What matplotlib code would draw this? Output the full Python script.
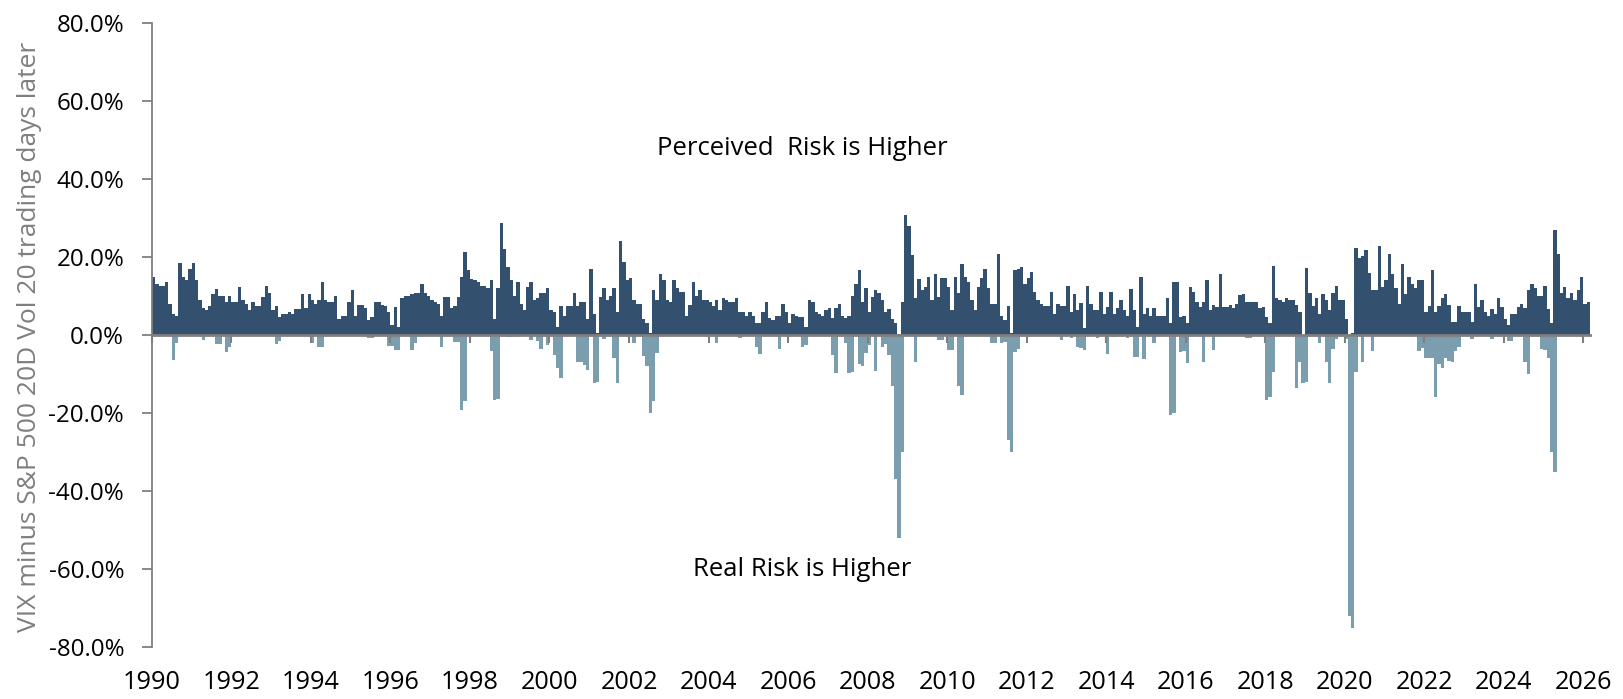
import matplotlib
matplotlib.use("Agg")
import matplotlib.pyplot as plt
import matplotlib.dates as mdates
import pandas as pd

plt.rcParams["font.family"] = ["Open Sans", "DejaVu Sans"]

start_month = "1990-01-01"

# Monthly peak of VIX minus realised vol (positive side), in percent
perceived_higher = [
    15, 13, 12.5, 12.5, 13.7, 8, 5.5, 5, 18.4, 15, 14, 17,            # 1990
    18.4, 14, 9, 7, 6.4, 7.4, 10.5, 11.7, 10, 10, 8.5, 10,            # 1991
    8.5, 8.5, 12.2, 9, 8, 6.4, 8.5, 7.4, 7.4, 9.8, 12.5, 10.7,        # 1992
    6.4, 7.4, 4.7, 5.5, 5.5, 6, 5.5, 6.6, 6.6, 10.5, 7, 10.5,         # 1993
    9, 8, 9, 13.7, 9, 8.5, 8.5, 10, 4, 5, 5, 8.5,                     # 1994
    11.5, 5, 7.7, 7.7, 7, 3.8, 4.5, 8.5, 8.5, 7.7, 7.4, 6,            # 1995
    2.5, 7.3, 2, 9.5, 10, 10, 10.5, 10.7, 10.7, 13, 10.7, 10,         # 1996
    9, 8.5, 8, 4.9, 9.8, 9.8, 7, 7.4, 9.8, 15, 21.4, 16.7,            # 1997
    14.3, 14, 13.7, 12.5, 12.5, 12, 14, 4, 12, 28.6, 22, 17.5,        # 1998
    14, 10, 13.7, 8, 6.4, 12.4, 13.7, 9, 9.4, 10.7, 10.7, 12,         # 1999
    6.4, 6, 2, 7.4, 5, 7.4, 7.4, 10.7, 7.4, 8.5, 8.5, 4,              # 2000
    17, 5.5, 0.5, 9.8, 12, 9, 10, 12, 6, 24, 18.8, 14,                # 2001
    14.5, 9, 8, 8, 4, 3, 0.5, 11.5, 9, 15.6, 14, 9,                   # 2002
    8.5, 14, 12, 11, 11, 5, 7.7, 13.7, 10, 11.5, 9, 9,                # 2003
    8.5, 7.5, 9, 6.5, 9.4, 9, 8.5, 8.5, 9.4, 6, 6, 5,                 # 2004
    6, 5, 3, 3, 6, 8.5, 4.3, 3.8, 5, 5, 8, 6,                         # 2005
    3, 5.5, 5, 4.7, 4.7, 2, 9, 8.5, 6, 5.5, 5, 6.4,                   # 2006
    6.8, 4.3, 6.8, 8, 5, 4.3, 5, 10, 13.2, 16.7, 8.5, 12,             # 2007
    6, 9.8, 11.5, 10.7, 9, 6, 6.6, 4, 3, 0.3, 8.5, 30.7,              # 2008
    28, 20.5, 9.4, 14.3, 11.5, 12.4, 15, 9, 15.6, 9.8, 14.5, 14.5,    # 2009
    12.2, 6.4, 15, 10.7, 18.2, 15, 13.7, 9, 6.4, 12.4, 14.5, 17,      # 2010
    12, 8, 8, 20.8, 5, 3.8, 7.4, 0.4, 16.7, 17, 17.5, 13.2,           # 2011
    14.5, 16.2, 11, 9, 8, 7.5, 7.4, 11, 5.5, 8, 7.4, 7.4,             # 2012
    12.5, 6, 10.4, 6.4, 8.3, 1.7, 12.5, 8, 6.4, 6.4, 11, 5.5,         # 2013
    7.3, 11, 5.5, 7, 9, 6.4, 5, 11.7, 6.4, 2, 15, 5.5,                # 2014
    6.8, 5, 6.8, 5, 5, 5, 9.4, 3, 13.7, 13.7, 4.7, 5,                 # 2015
    3, 12.2, 11, 8.5, 7.3, 8.5, 14, 6.4, 7.7, 7.3, 15.6, 7.3,         # 2016
    7.3, 7.7, 6.8, 8, 10.3, 10.4, 8.5, 8.5, 8.5, 8.5, 6.8, 7.3,       # 2017
    4.7, 3, 17.7, 9.4, 9, 8.5, 9.6, 9, 9, 7.7, 6, 0,                  # 2018
    17.3, 10.7, 7.4, 9.6, 5.5, 10.5, 9, 6.4, 10.7, 12.5, 9, 9,        # 2019
    4, 0, 0.5, 22.2, 19.7, 20.3, 21.8, 16, 11.5, 11.5, 22.8, 12.4,    # 2020
    14, 20.8, 15.6, 12, 8, 18.1, 10.5, 15, 13.2, 12, 14, 14,          # 2021
    6, 7.4, 16.7, 6, 7.4, 9.4, 10.5, 7.7, 3.4, 3.4, 7.4, 6,           # 2022
    6, 6, 3.4, 13, 7.3, 9, 6, 5, 6.6, 5.5, 9.4, 7.3,                  # 2023
    4, 2.6, 5.5, 5.5, 7.3, 8, 6.8, 11.5, 13, 12, 10, 10,              # 2024
    12.5, 6.6, 3, 27, 20.8, 10.7, 12.2, 9.4, 10.7, 9, 11.5, 15,       # 2025
    8, 8.5,                                                           # 2026
]

# Monthly trough (negative side), in percent
real_higher = [
    0, 0, 0, 0, 0, 0, -6.4, -2, 0, 0, 0, 0,                           # 1990
    0, 0, 0, -1.3, 0, 0, 0, -2.3, -2.3, 0, -4.3, -3,                  # 1991
    0, 0, 0, 0, 0, 0, 0, 0, 0, 0, 0, 0,                               # 1992
    0, -2.3, -1.5, 0, 0, 0, 0, 0, 0, 0, 0, 0,                         # 1993
    -2.1, 0, -3.2, -3.2, 0, 0, 0, 0, 0, 0, 0, 0,                      # 1994
    0, 0, 0, 0, 0, -0.7, -0.7, 0, 0, 0, 0, -2.8,                      # 1995
    -2.8, -3.8, -3.8, 0, 0, 0, -3.8, -2, 0, 0, 0, 0,                  # 1996
    0, 0, 0, -3.2, 0, 0, 0, -1.7, -1.7, -19.2, -17, 0,                # 1997
    0, 0, 0, 0, 0, 0, -4, -16.7, -16.5, 0, 0, -0.6,                   # 1998
    -0.6, 0, 0, 0, 0, 0, -1.3, 0, -1.5, -3.7, 0, -2.6,                # 1999
    0, -5, -8.5, -11, 0, 0, 0, 0, -6.8, -7, -7.7, -9,                 # 2000
    0, -12.4, -12, 0, -1, 0, 0, -6, -12.4, 0, 0, 0,                   # 2001
    0, -2.1, 0, 0, -5.5, -8, -20, -17, -4.7, 0, 0, 0,                 # 2002
    0, 0, 0, 0, 0, 0, 0, 0, 0, 0, 0, 0,                               # 2003
    0, 0, -2, 0, 0, 0, 0, 0, 0, -0.7, 0, 0,                           # 2004
    0, 0, -3, -4.9, 0, 0, 0, 0, 0, -3.7, 0, 0,                        # 2005
    0, 0, 0, 0, -3, -2.5, 0, 0, 0, 0, 0, 0,                           # 2006
    0, -5, -9.8, 0, 0, -2, -9.8, -9.6, 0, -7.5, -8, -4.5,             # 2007
    -2.6, 0, -9.3, 0, -3, -2.4, -5, -13, -37, -52, -30, 0,            # 2008
    0, 0, -6.8, 0, 0, 0, 0, 0, 0, -1.3, -1.3, 0,                      # 2009
    -3.8, -3.8, 0, -13, -15.5, 0, 0, 0, 0, 0, 0, 0,                   # 2010
    0, -2.1, -2.1, 0, -2, -1.7, -27, -30, -4.3, -3.5, 0, 0,           # 2011
    0, 0, 0, 0, 0, 0, 0, 0, 0, 0, -1.3, 0,                            # 2012
    0, -0.7, 0, -3, -3.4, -3.8, 0, 0, 0, -0.7, 0, 0,                  # 2013
    -4.9, 0, -0.6, 0, 0, 0, -0.7, 0, -5.6, -5.6, 0, -6.2,             # 2014
    0, 0, -2.1, 0, 0, 0, 0, -20.5, -20, 0, -4.3, -4,                  # 2015
    -7.3, 0, 0, 0, 0, -6.8, 0, 0, -3.8, 0, 0, 0,                      # 2016
    0, 0, 0, 0, 0, 0, -0.7, -0.7, 0, 0, 0, 0,                         # 2017
    -16.7, -16, -9.4, 0, 0, 0, 0, 0, 0, -13.7, -7, -12.4,             # 2018
    -12, 0, 0, 0, -2.1, 0, -7, -12.2, -3.6, -1, 0, 0,                 # 2019
    -1, -72, -75, -9.5, 0, -7, 0, 0, -4, 0, 0, 0,                     # 2020
    0, 0, 0, 0, 0, 0, 0, 0, 0, 0, -4, -3.4,                           # 2021
    -6, -6, -6, -16, -7.5, -8.5, -6, -6.7, -6.8, -4, -3, 0,           # 2022
    0, 0, -1, 0, 0, 0, 0, 0, -1, 0, 0, 0,                             # 2023
    0, -1.5, -1.5, 0, 0, 0, -7, -10, 0, 0, 0, -3.5,                   # 2024
    -3.8, -6, -30, -35, 0, 0, 0, 0, 0, 0, 0, 0,                       # 2025
    0, 0,                                                             # 2026
]

y_ticks = [-80, -60, -40, -20, 0, 20, 40, 60, 80]
y_label = "VIX minus S&P 500 20D Vol 20 trading days later"
upper_note = "Perceived  Risk is Higher"
lower_note = "Real Risk is Higher"

navy = "#34506f"
steel = "#7a9eae"
grey = "#7f7f7f"

dates = pd.date_range(start_month, periods=len(perceived_higher), freq="MS")

fig = plt.figure(figsize=(16.23, 6.99), dpi=100)
ax = fig.add_axes([152 / 1623, 1 - 647 / 699, (1590 - 152) / 1623, (647 - 23) / 699])

ax.bar(dates, perceived_higher, width=31, align="edge", color=navy, linewidth=0)
ax.bar(dates, real_higher, width=31, align="edge", color=steel, linewidth=0)

ax.set_ylim(-80, 80)
ax.set_xlim(pd.Timestamp("1990-01-01"), pd.Timestamp("2026-03-05"))
ax.set_yticks(y_ticks)
ax.set_yticklabels([f"{v:.1f}%" for v in y_ticks])

ax.xaxis.set_major_locator(mdates.YearLocator(2))
ax.xaxis.set_major_formatter(mdates.DateFormatter("%Y"))

for s in ["top", "right"]:
    ax.spines[s].set_visible(False)
ax.spines["left"].set_color(grey)
ax.spines["left"].set_linewidth(1.3)
ax.spines["bottom"].set_position(("data", 0))
ax.spines["bottom"].set_color(grey)
ax.spines["bottom"].set_linewidth(2.0)
ax.spines["bottom"].set_zorder(3)

ax.tick_params(axis="y", direction="out", length=7, width=1.3, color=grey,
               labelsize=17.4, labelcolor="black", pad=13)
ax.tick_params(axis="x", direction="out", length=6, width=1.5, color=grey,
               labelsize=18.2, labelcolor="black", pad=235)

fig.text(30 / 1623, 1 - 337 / 699, y_label, rotation=90, ha="center", va="center",
         fontsize=19, color=grey)

ax.text(pd.Timestamp("2006-05-15"), 47.7, upper_note, ha="center", va="center",
        fontsize=18.5, color="black")
ax.text(pd.Timestamp("2006-05-15"), -60, lower_note, ha="center", va="center",
        fontsize=18.5, color="black")

fig.savefig("out.png", dpi=100)
